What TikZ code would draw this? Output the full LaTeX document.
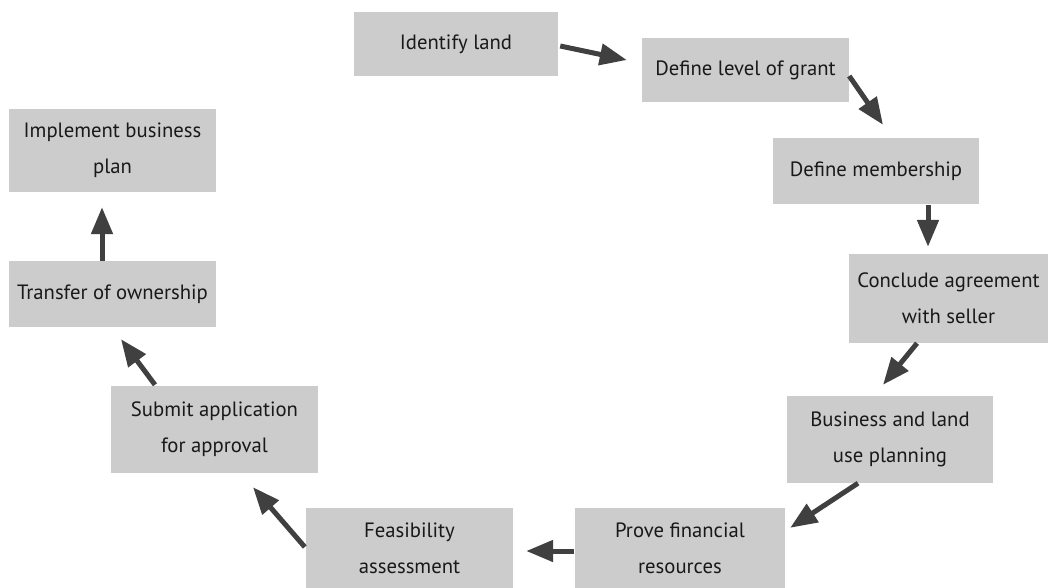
\documentclass[tikz,border=0pt]{standalone}
\usepackage{fontspec}
\setmainfont{PT Sans}
\usetikzlibrary{arrows.meta,calc}
\definecolor{boxgray}{HTML}{CCCCCC}
\definecolor{arrowgray}{HTML}{404040}
\begin{document}
\begin{tikzpicture}[x=1pt,y=-1pt]

			\tikzstyle{step box}=[fill=boxgray,draw=none,inner sep=0pt,
				align=center,text=black!90,
				font=\fontsize{20.7}{36}\selectfont]
			\tikzstyle{flow}=[arrowgray,line width=5pt,
				-{Triangle[length=27pt,width=21pt]}]

			\useasboundingbox (0,0) rectangle (1048,588);

			\node[step box,minimum width=204pt,minimum height=64pt]	(land)	at (456,44)	{Identify land};
			\node[step box,minimum width=207pt,minimum height=64pt]	(grant)	at (745.5,70)	{Define level of grant};
			\node[step box,minimum width=206pt,minimum height=66pt]	(member)	at (876,171)	{Define membership};
			\node[step box,minimum width=199pt,minimum height=89pt]	(seller)	at (948.5,298.5)	{Conclude agreement\\with seller};
			\node[step box,minimum width=206pt,minimum height=87pt]	(plan)	at (890,439.5)	{Business and land\\use planning};
			\node[step box,minimum width=210pt,minimum height=80pt]	(funds)	at (680,548)	{Prove financial\\resources};
			\node[step box,minimum width=207pt,minimum height=80pt]	(study)	at (409.5,548)	{Feasibility\\assessment};
			\node[step box,minimum width=207pt,minimum height=87pt]	(apply)	at (214.5,429.5)	{Submit application\\for approval};
			\node[step box,minimum width=207pt,minimum height=66pt]	(owner)	at (112.5,294)	{Transfer of ownership};
			\node[step box,minimum width=207pt,minimum height=83pt]	(impl)	at (112.5,150.5)	{Implement business\\plan};

			\draw[flow] ($(land.east)+(2,2)$)	-- ($(grant.west)+(-15,-10)$);
			\draw[flow] ($(grant.east)+(0,6)$)	-- ($(member.north)+(7,-13)$);
			\draw[flow] ($(member.south)+(52,1)$)	-- ($(seller.north)+(-20.5,-7)$);
			\draw[flow] ($(seller.south)+(-31.5,0)$)	-- ($(plan.north)+(-7,-11)$);
			\draw[flow] ($(plan.south)+(-32,0)$)	-- ($(funds.north east)+(5,20)$);
			\draw[flow] ($(funds.west)+(-1,3)$)	-- ($(study.east)+(13,3)$);
			\draw[flow] ($(study.west)+(-1,-1)$)	-- ($(apply.south)+(38.5,14)$);
			\draw[flow] ($(apply.north)+(-59.5,-1)$)	-- ($(owner.south)+(8.5,12)$);
			\draw[flow] ($(owner.north)+(-10.5,0)$)	-- ($(impl.south)+(-10.5,15)$);

			\end{tikzpicture}
\end{document}
